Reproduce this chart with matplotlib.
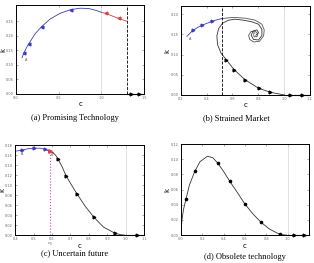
import matplotlib
matplotlib.use("Agg")
import matplotlib.pyplot as plt

plt.rcParams.update({'font.family': 'DejaVu Sans', 'font.size': 5})

# (a) Promising Technology
a_blue_c = [0.07, 0.093, 0.12, 0.15, 0.22, 0.30, 0.40, 0.52, 0.64, 0.75, 0.85, 0.93, 1.0]
a_blue_k = [0.124, 0.141, 0.157, 0.172, 0.205, 0.231, 0.257, 0.277, 0.289, 0.294, 0.293, 0.287, 0.280]
a_red_c = [1.0, 1.05, 1.12, 1.2, 1.3]
a_red_k = [0.280, 0.276, 0.268, 0.259, 0.249]
a_blue_mark_c = [0.093, 0.15, 0.30, 0.64]
a_blue_mark_k = [0.141, 0.172, 0.231, 0.289]
a_red_mark_c = [1.05, 1.2]
a_red_mark_k = [0.276, 0.259]
a_axis_c = [1.3, 1.35, 1.44, 1.5]
a_dash_c = 1.3

# (b) Strained Market
b_blue_c = [0.247, 0.293, 0.33, 0.363, 0.40, 0.44, 0.48, 0.518]
b_blue_k = [0.145, 0.160, 0.167, 0.1725, 0.177, 0.182, 0.186, 0.189]
b_in_c = [0.518, 0.608, 0.698, 0.776, 0.828, 0.846, 0.841, 0.810, 0.763, 0.733, 0.725,
          0.743, 0.776, 0.797, 0.789, 0.768, 0.763]
b_in_k = [0.189, 0.192, 0.190, 0.185, 0.175, 0.161, 0.146, 0.133, 0.131, 0.1375, 0.1475,
          0.157, 0.158, 0.151, 0.144, 0.144, 0.149]
b_out_c = [0.781, 0.802, 0.789, 0.758, 0.745, 0.763, 0.802, 0.828, 0.828, 0.802, 0.750,
           0.686, 0.621, 0.570, 0.523, 0.492, 0.479, 0.484, 0.510, 0.551, 0.613, 0.698,
           0.802, 0.892, 1.0]
b_out_k = [0.1475, 0.154, 0.161, 0.158, 0.1475, 0.1375, 0.136, 0.1475, 0.1625, 0.175, 0.181,
           0.185, 0.1875, 0.185, 0.1775, 0.164, 0.146, 0.125, 0.104, 0.0875, 0.0625, 0.0375,
           0.0167, 0.0067, 0.0]
b_blue_mark_c = [0.293, 0.363, 0.44]
b_blue_mark_k = [0.160, 0.1725, 0.182]
b_mark_c = [0.551, 0.613, 0.698, 0.802, 0.892]
b_mark_k = [0.0875, 0.0625, 0.0375, 0.0167, 0.0067]
b_axis_c = [1.0, 1.043, 1.139, 1.2]
b_dash_c = 0.52

# (c) Uncertain future
c_blue_c = [0.40, 0.438, 0.47, 0.503, 0.535, 0.562, 0.585]
c_blue_k = [0.168, 0.170, 0.173, 0.174, 0.174, 0.172, 0.168]
c_red_c = [0.578, 0.59, 0.605]
c_red_k = [0.170, 0.168, 0.165]
c_black_c = [0.605, 0.62, 0.633, 0.655, 0.676, 0.705, 0.735, 0.78, 0.827, 0.88, 0.94, 0.97, 0.995]
c_black_k = [0.165, 0.160, 0.152, 0.137, 0.119, 0.101, 0.083, 0.058, 0.036, 0.016, 0.004, 0.001, 0.0]
c_blue_mark_c = [0.438, 0.503, 0.562]
c_blue_mark_k = [0.170, 0.174, 0.172]
c_mark_c = [0.633, 0.676, 0.735, 0.827, 0.94]
c_mark_k = [0.152, 0.119, 0.083, 0.036, 0.004]
c_axis_c = [1.0, 1.06, 1.1]
c_zero_c = 0.589
c_zero_k = 0.168

# (d) Obsolete technology
d_c = [0, 0.01, 0.025, 0.047, 0.08, 0.13, 0.18, 0.25, 0.30, 0.345, 0.40, 0.458, 0.53,
       0.60, 0.675, 0.75, 0.83, 0.925, 0.99]
d_k = [0, 0.02, 0.034, 0.047, 0.066, 0.084, 0.097, 0.104, 0.102, 0.095, 0.084, 0.071,
       0.056, 0.041, 0.028, 0.017, 0.008, 0.001, 0]
d_mark_c = [0.047, 0.13, 0.345, 0.458, 0.60, 0.75, 0.925]
d_mark_k = [0.047, 0.084, 0.095, 0.071, 0.041, 0.017, 0.001]
d_axis_c = [1.0, 1.056, 1.15, 1.2]

BLUE = '#3a3ad0'
RED = '#e03a3a'
CURVE = '#333333'

fig = plt.figure(figsize=(3.14, 2.63), dpi=100)
ax_a = fig.add_axes([0.051, 0.643, 0.408, 0.338])
ax_b = fig.add_axes([0.576, 0.639, 0.411, 0.338])
ax_c = fig.add_axes([0.048, 0.106, 0.411, 0.342])
ax_d = fig.add_axes([0.576, 0.106, 0.408, 0.346])


def style(ax, xlim, ylim, xticks, yticks, ylab_x):
    ax.set_xlim(*xlim)
    ax.set_ylim(*ylim)
    ax.set_xticks(xticks)
    ax.set_yticks(yticks)
    ax.tick_params(direction='in', length=1.5, width=0.4, labelsize=2.5,
                   colors='#666666', pad=1.5, top=True, right=True)
    for s in ax.spines.values():
        s.set_linewidth(0.7)
    ax.set_xlabel('c', labelpad=1, fontsize=5)
    ax.set_ylabel('k', fontsize=5)
    ax.yaxis.set_label_coords(ylab_x, 0.5)
    ax.axvline(1.0, color='#cccccc', lw=0.4)


def axis_run(ax, cs):
    ax.plot(cs, [0] * len(cs), color='black', lw=0.8, clip_on=False, zorder=5)
    ax.plot(cs[1:-1], [0] * (len(cs) - 2), ls='none', marker='>', ms=2,
            color='black', clip_on=False, zorder=6)


# (a)
style(ax_a, (0, 1.5), (0, 0.305), [0, 0.5, 1, 1.5], [0, 0.05, 0.1, 0.15, 0.2, 0.25], -0.075)
ax_a.plot(a_blue_c, a_blue_k, color=BLUE, lw=0.6)
ax_a.plot(a_red_c, a_red_k, color=RED, lw=0.6)
ax_a.plot(a_blue_mark_c, a_blue_mark_k, ls='none', marker='<', ms=2, color=BLUE)
ax_a.plot(a_red_mark_c, a_red_mark_k, ls='none', marker='<', ms=2, color=RED)
ax_a.axvline(a_dash_c, color='black', ls='--', lw=0.6)
axis_run(ax_a, a_axis_c)
ax_a.text(0.11, 0.112, 'A', fontsize=2.5, color='#555555')

# (b)
style(ax_b, (0.2, 1.2), (0, 0.22), [0.2, 0.4, 0.6, 0.8, 1, 1.2], [0, 0.05, 0.1, 0.15, 0.2], -0.085)
ax_b.plot(b_in_c, b_in_k, color='#555555', lw=0.6)
ax_b.plot(b_out_c, b_out_k, color=CURVE, lw=0.6)
ax_b.plot(b_blue_c, b_blue_k, color=BLUE, lw=0.6)
ax_b.plot(b_blue_mark_c, b_blue_mark_k, ls='none', marker='>', ms=2, color=BLUE)
ax_b.plot(b_mark_c, b_mark_k, ls='none', marker='>', ms=2, color='black')
ax_b.axvline(b_dash_c, color='black', ls='--', lw=0.6)
axis_run(ax_b, b_axis_c)
ax_b.text(0.26, 0.135, 'A', fontsize=2.5, color='#555555')
ax_b.text(0.76, 0.150, 'A', fontsize=2.5, color='#555555')

# (c)
style(ax_c, (0.4, 1.1), (0, 0.18), [0.4, 0.5, 0.6, 0.7, 0.8, 0.9, 1, 1.1],
      [0, 0.02, 0.04, 0.06, 0.08, 0.1, 0.12, 0.14, 0.16, 0.18], -0.075)
ax_c.plot([c_zero_c, c_zero_c], [0, c_zero_k], color='#e040c0', ls=':', lw=0.8)
ax_c.plot(c_blue_c, c_blue_k, color=BLUE, lw=0.6)
ax_c.plot(c_red_c, c_red_k, color=RED, lw=0.9)
ax_c.plot(c_black_c, c_black_k, color=CURVE, lw=0.6)
ax_c.plot(c_blue_mark_c, c_blue_mark_k, ls='none', marker='>', ms=2, color=BLUE)
ax_c.plot([c_zero_c], [c_zero_k], ls='none', marker='>', ms=2.5, color=RED)
ax_c.plot(c_mark_c, c_mark_k, ls='none', marker='>', ms=2, color='black')
axis_run(ax_c, c_axis_c)
ax_c.text(0.43, 0.160, 'A', fontsize=2.5, color='#555555')
ax_c.text(0.595, 0.158, 'B', fontsize=2.5, color='#555555')
ax_c.text(c_zero_c, -0.010, '$c_0$', fontsize=2.8, ha='center', va='top', color='#555555')

# (d)
style(ax_d, (0, 1.2), (0, 0.12), [0, 0.2, 0.4, 0.6, 0.8, 1],
      [0, 0.02, 0.04, 0.06, 0.08, 0.1, 0.12], -0.085)
ax_d.plot(d_c, d_k, color=CURVE, lw=0.6)
ax_d.plot(d_mark_c, d_mark_k, ls='none', marker='o', ms=1.6, color='black')
axis_run(ax_d, d_axis_c)

cap = dict(fontsize=6, family='Liberation Serif', ha='center', va='center')
fig.text(75 / 314, 1 - 118 / 263, '(a) Promising Technology', **cap)
fig.text(236 / 314, 1 - 118 / 263, '(b) Strained Market', **cap)
fig.text(75 / 314, 1 - 253 / 263, '(c) Uncertain future', **cap)
fig.text(245 / 314, 1 - 257 / 263, '(d) Obsolete technology', **cap)

fig.savefig('out.png', dpi=100)
